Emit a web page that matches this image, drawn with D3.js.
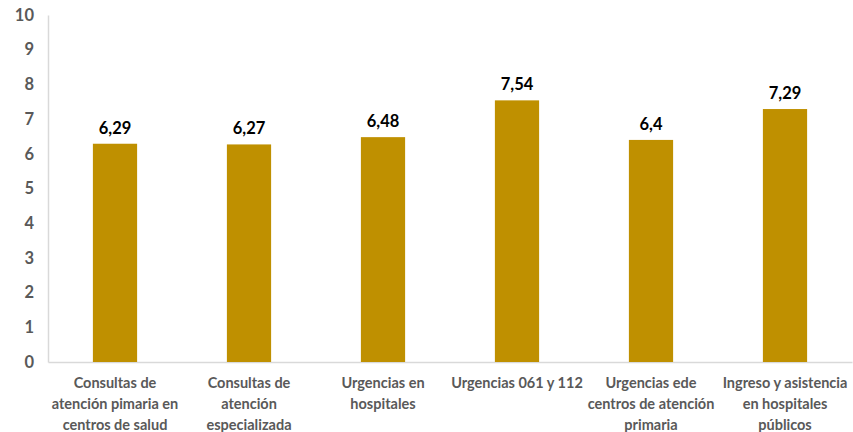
<!DOCTYPE html>
<html>
<head>
<meta charset="utf-8">
<script src="https://cdn.jsdelivr.net/npm/d3@7"></script>
<style>
  body { margin: 0; background: #fff; }
  text { font-family: Lato, "Open Sans", sans-serif; }
</style>
</head>
<body>
<div id="chart"></div>
<script>
const width = 853;
const height = 432;

const categories = [
  ["Consultas de", "atención pimaria en", "centros de salud"],
  ["Consultas de", "atención", "especializada"],
  ["Urgencias en", "hospitales"],
  ["Urgencias 061 y 112"],
  ["Urgencias ede", "centros de atención", "primaria"],
  ["Ingreso y asistencia", "en hospitales", "públicos"]
];
const values = [6.29, 6.27, 6.48, 7.54, 6.4, 7.29];
const yTicks = [0, 1, 2, 3, 4, 5, 6, 7, 8, 9, 10];

const margin = { top: 15, right: 1, bottom: 70, left: 48 };

const svg = d3.select("#chart").append("svg").attr("width", width).attr("height", height);

const x = d3.scaleBand()
  .domain(d3.range(categories.length))
  .range([margin.left, width - margin.right])
  .paddingInner(0.67)
  .paddingOuter(0.335);

const y = d3.scaleLinear().domain([0, 10]).range([height - margin.bottom, margin.top]);

// ejes
const yAxis = svg.append("g")
  .attr("transform", `translate(${margin.left},0)`)
  .call(d3.axisLeft(y).tickValues(yTicks).tickSize(0).tickPadding(14));
yAxis.select(".domain").attr("stroke", "#d9d9d9").attr("stroke-width", 1.5);
yAxis.selectAll("text").attr("fill", "#595959").style("font-size", "16.5px").style("font-weight", "bold");

const xAxis = svg.append("g")
  .attr("transform", `translate(0,${y(0)})`)
  .call(d3.axisBottom(x).tickSize(0).tickFormat(""));
xAxis.select(".domain").attr("stroke", "#d9d9d9").attr("stroke-width", 1.5);

// barras
svg.append("g")
  .selectAll("rect")
  .data(values)
  .join("rect")
  .attr("x", (d, i) => x(i))
  .attr("y", d => y(d))
  .attr("width", x.bandwidth())
  .attr("height", d => y(0) - y(d))
  .attr("fill", "#bf9000");

// etiquetas de valor
svg.append("g")
  .selectAll("text")
  .data(values)
  .join("text")
  .attr("x", (d, i) => x(i) + x.bandwidth() / 2)
  .attr("y", d => y(d) - 10)
  .attr("text-anchor", "middle")
  .attr("fill", "#000")
  .style("font-size", "16.5px")
  .style("font-weight", "bold")
  .text(d => String(d).replace(".", ","));

// categorías
const cat = svg.append("g")
  .selectAll("text")
  .data(categories)
  .join("text")
  .attr("x", (d, i) => x(i) + x.bandwidth() / 2)
  .attr("y", y(0) + 26)
  .attr("text-anchor", "middle")
  .attr("fill", "#595959")
  .style("font-size", "14.5px")
  .style("font-weight", "bold");

cat.selectAll("tspan")
  .data(d => d)
  .join("tspan")
  .attr("x", function () { return d3.select(this.parentNode).attr("x"); })
  .attr("dy", (d, i) => (i === 0 ? 0 : 21))
  .text(d => d);
</script>
</body>
</html>
